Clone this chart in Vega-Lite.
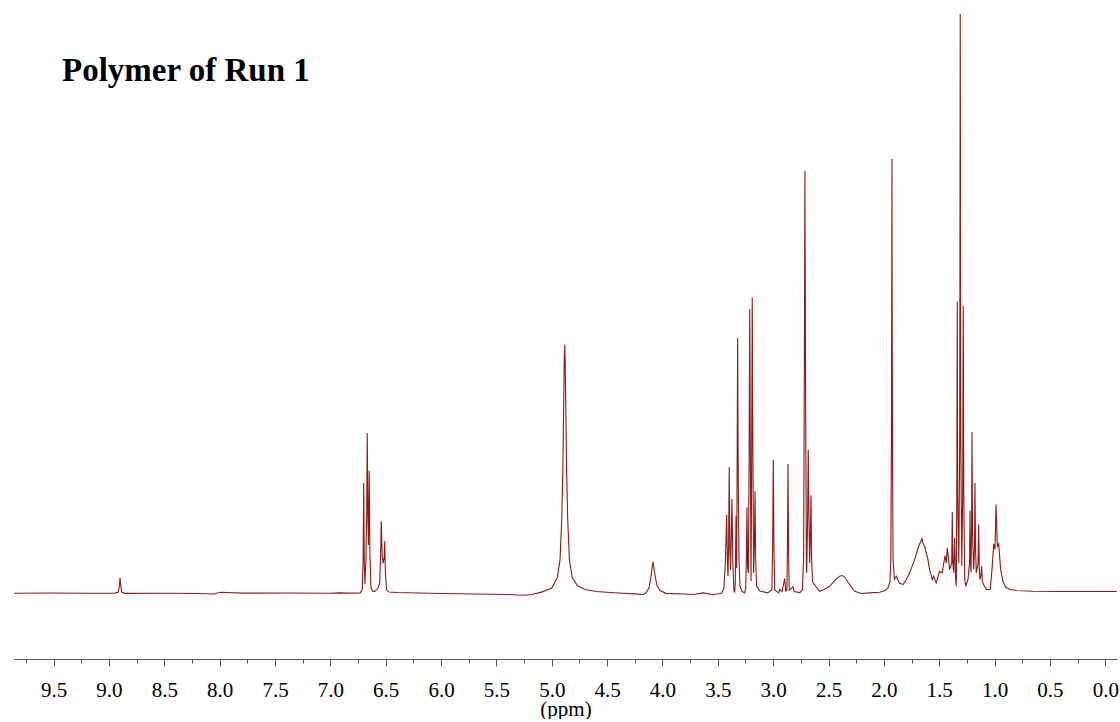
{
  "$schema": "https://vega.github.io/schema/vega-lite/v6.json",
  "width": 1103,
  "height": 659,
  "padding": {"left": 11, "top": 0, "right": 6, "bottom": 0},
  "background": "white",
  "config": {"view": {"stroke": null}},
  "title": {
    "text": "Polymer of Run 1",
    "anchor": "start",
    "frame": "group",
    "orient": "top",
    "font": "Liberation Serif",
    "fontSize": 33,
    "fontWeight": "bold",
    "color": "#000000",
    "baseline": "alphabetic",
    "dx": 48,
    "offset": -114
  },
  "data": {
    "values": [
      {"ppm": 9.858, "intensity": -0.2}, {"ppm": 9.5, "intensity": 0}, {"ppm": 9.2, "intensity": -0.2},
      {"ppm": 8.95, "intensity": -0.1}, {"ppm": 8.915, "intensity": 1}, {"ppm": 8.905, "intensity": 8.5},
      {"ppm": 8.9, "intensity": 15.2}, {"ppm": 8.895, "intensity": 8.5}, {"ppm": 8.885, "intensity": 1},
      {"ppm": 8.86, "intensity": -0.3}, {"ppm": 8.5, "intensity": -0.2}, {"ppm": 8.2, "intensity": -0.5},
      {"ppm": 8.05, "intensity": -1}, {"ppm": 8.02, "intensity": 0}, {"ppm": 7.98, "intensity": 0.8},
      {"ppm": 7.93, "intensity": 0.5}, {"ppm": 7.8, "intensity": -0.1}, {"ppm": 7.4, "intensity": 0},
      {"ppm": 7.0, "intensity": -0.2}, {"ppm": 6.92, "intensity": 0.2}, {"ppm": 6.85, "intensity": -0.1},
      {"ppm": 6.73, "intensity": 0.2}, {"ppm": 6.712, "intensity": 3.5}, {"ppm": 6.704, "intensity": 33},
      {"ppm": 6.699, "intensity": 110.2}, {"ppm": 6.694, "intensity": 33}, {"ppm": 6.688, "intensity": 9},
      {"ppm": 6.679, "intensity": 33}, {"ppm": 6.672, "intensity": 80}, {"ppm": 6.667, "intensity": 160.2},
      {"ppm": 6.661, "intensity": 75}, {"ppm": 6.656, "intensity": 48}, {"ppm": 6.649, "intensity": 122.5},
      {"ppm": 6.643, "intensity": 40}, {"ppm": 6.634, "intensity": 6}, {"ppm": 6.62, "intensity": 2},
      {"ppm": 6.6, "intensity": 1.5}, {"ppm": 6.57, "intensity": 5}, {"ppm": 6.555, "intensity": 10},
      {"ppm": 6.547, "intensity": 35}, {"ppm": 6.54, "intensity": 71.8}, {"ppm": 6.533, "intensity": 40},
      {"ppm": 6.524, "intensity": 30}, {"ppm": 6.514, "intensity": 35}, {"ppm": 6.509, "intensity": 51.8},
      {"ppm": 6.503, "intensity": 20}, {"ppm": 6.492, "intensity": 3}, {"ppm": 6.47, "intensity": 1},
      {"ppm": 6.4, "intensity": 0.5}, {"ppm": 6.2, "intensity": 0}, {"ppm": 6.0, "intensity": -0.5},
      {"ppm": 5.7, "intensity": -1}, {"ppm": 5.4, "intensity": -1.5}, {"ppm": 5.26, "intensity": -2.2},
      {"ppm": 5.18, "intensity": -1.5}, {"ppm": 5.1, "intensity": 0.7}, {"ppm": 5.0, "intensity": 5},
      {"ppm": 4.95, "intensity": 15.5}, {"ppm": 4.925, "intensity": 33.5}, {"ppm": 4.91, "intensity": 73.5},
      {"ppm": 4.9, "intensity": 123.5}, {"ppm": 4.893, "intensity": 183.5}, {"ppm": 4.887, "intensity": 233.5},
      {"ppm": 4.883, "intensity": 248.5}, {"ppm": 4.879, "intensity": 233.5}, {"ppm": 4.873, "intensity": 183.5},
      {"ppm": 4.866, "intensity": 123.5}, {"ppm": 4.856, "intensity": 73.5}, {"ppm": 4.841, "intensity": 33.5},
      {"ppm": 4.815, "intensity": 15.5}, {"ppm": 4.77, "intensity": 7.5}, {"ppm": 4.7, "intensity": 3.5},
      {"ppm": 4.6, "intensity": 1.5}, {"ppm": 4.4, "intensity": 0}, {"ppm": 4.25, "intensity": -0.8},
      {"ppm": 4.176, "intensity": -1.5}, {"ppm": 4.15, "intensity": 0}, {"ppm": 4.12, "intensity": 5.5},
      {"ppm": 4.1, "intensity": 19.5}, {"ppm": 4.092, "intensity": 27}, {"ppm": 4.086, "intensity": 31.2},
      {"ppm": 4.08, "intensity": 27}, {"ppm": 4.07, "intensity": 19.5}, {"ppm": 4.05, "intensity": 7.5},
      {"ppm": 4.02, "intensity": 2.5}, {"ppm": 3.97, "intensity": -0.3}, {"ppm": 3.8, "intensity": -1},
      {"ppm": 3.72, "intensity": -1.5}, {"ppm": 3.634, "intensity": 0.2}, {"ppm": 3.55, "intensity": -1.5},
      {"ppm": 3.5, "intensity": -1}, {"ppm": 3.465, "intensity": 0}, {"ppm": 3.445, "intensity": 5},
      {"ppm": 3.432, "intensity": 30}, {"ppm": 3.42, "intensity": 78.5}, {"ppm": 3.413, "intensity": 30},
      {"ppm": 3.408, "intensity": 17}, {"ppm": 3.403, "intensity": 45}, {"ppm": 3.397, "intensity": 126.2},
      {"ppm": 3.391, "intensity": 45}, {"ppm": 3.385, "intensity": 23}, {"ppm": 3.378, "intensity": 60},
      {"ppm": 3.372, "intensity": 94.2}, {"ppm": 3.365, "intensity": 33}, {"ppm": 3.355, "intensity": 3},
      {"ppm": 3.348, "intensity": 0.5}, {"ppm": 3.342, "intensity": 10}, {"ppm": 3.336, "intensity": 76.8},
      {"ppm": 3.33, "intensity": 25}, {"ppm": 3.325, "intensity": 140}, {"ppm": 3.321, "intensity": 255.2},
      {"ppm": 3.317, "intensity": 150}, {"ppm": 3.315, "intensity": 107.8}, {"ppm": 3.309, "intensity": 35},
      {"ppm": 3.3, "intensity": 7}, {"ppm": 3.28, "intensity": 1.5}, {"ppm": 3.257, "intensity": 0.2},
      {"ppm": 3.248, "intensity": 5}, {"ppm": 3.242, "intensity": 35}, {"ppm": 3.237, "intensity": 85.8},
      {"ppm": 3.231, "intensity": 25}, {"ppm": 3.224, "intensity": 20}, {"ppm": 3.217, "intensity": 140},
      {"ppm": 3.212, "intensity": 284.2}, {"ppm": 3.206, "intensity": 140}, {"ppm": 3.2, "intensity": 12},
      {"ppm": 3.194, "intensity": 140}, {"ppm": 3.189, "intensity": 295.8}, {"ppm": 3.183, "intensity": 140},
      {"ppm": 3.177, "intensity": 20}, {"ppm": 3.169, "intensity": 50}, {"ppm": 3.164, "intensity": 101.8},
      {"ppm": 3.158, "intensity": 35}, {"ppm": 3.15, "intensity": 7}, {"ppm": 3.12, "intensity": 2},
      {"ppm": 3.05, "intensity": 0.2}, {"ppm": 3.012, "intensity": 3}, {"ppm": 3.005, "intensity": 45},
      {"ppm": 2.999, "intensity": 133.5}, {"ppm": 2.993, "intensity": 45}, {"ppm": 2.986, "intensity": 3},
      {"ppm": 2.95, "intensity": 0.2}, {"ppm": 2.941, "intensity": 3.5}, {"ppm": 2.92, "intensity": 1.5},
      {"ppm": 2.896, "intensity": 14.5}, {"ppm": 2.886, "intensity": 2}, {"ppm": 2.876, "intensity": 3},
      {"ppm": 2.871, "intensity": 45}, {"ppm": 2.866, "intensity": 129.2}, {"ppm": 2.861, "intensity": 45},
      {"ppm": 2.855, "intensity": 3}, {"ppm": 2.821, "intensity": 6.2}, {"ppm": 2.81, "intensity": 1.5},
      {"ppm": 2.76, "intensity": 0.5}, {"ppm": 2.736, "intensity": 3}, {"ppm": 2.725, "intensity": 35},
      {"ppm": 2.719, "intensity": 200}, {"ppm": 2.713, "intensity": 422.5}, {"ppm": 2.707, "intensity": 200},
      {"ppm": 2.7, "intensity": 30}, {"ppm": 2.697, "intensity": 20}, {"ppm": 2.689, "intensity": 75},
      {"ppm": 2.683, "intensity": 143.5}, {"ppm": 2.677, "intensity": 75}, {"ppm": 2.67, "intensity": 30},
      {"ppm": 2.664, "intensity": 60}, {"ppm": 2.659, "intensity": 97.5}, {"ppm": 2.653, "intensity": 35},
      {"ppm": 2.645, "intensity": 12}, {"ppm": 2.64, "intensity": 10.2}, {"ppm": 2.58, "intensity": 1.8},
      {"ppm": 2.54, "intensity": 3.5}, {"ppm": 2.49, "intensity": 6.8}, {"ppm": 2.43, "intensity": 14.2},
      {"ppm": 2.4, "intensity": 16.8}, {"ppm": 2.376, "intensity": 17.5}, {"ppm": 2.35, "intensity": 15.5},
      {"ppm": 2.324, "intensity": 10.8}, {"ppm": 2.264, "intensity": 1.8},
      {"ppm": 2.204, "intensity": -0.5}, {"ppm": 2.128, "intensity": 0.2}, {"ppm": 2.038, "intensity": 0.8},
      {"ppm": 1.99, "intensity": 2.5}, {"ppm": 1.963, "intensity": 5.2}, {"ppm": 1.945, "intensity": 11.5},
      {"ppm": 1.937, "intensity": 33.5}, {"ppm": 1.932, "intensity": 143.5}, {"ppm": 1.929, "intensity": 293.5},
      {"ppm": 1.927, "intensity": 434.5}, {"ppm": 1.925, "intensity": 293.5}, {"ppm": 1.922, "intensity": 143.5},
      {"ppm": 1.917, "intensity": 33.5}, {"ppm": 1.905, "intensity": 14}, {"ppm": 1.888, "intensity": 16.8},
      {"ppm": 1.86, "intensity": 10}, {"ppm": 1.827, "intensity": 8.5}, {"ppm": 1.797, "intensity": 13.5},
      {"ppm": 1.767, "intensity": 20.2}, {"ppm": 1.722, "intensity": 33.5}, {"ppm": 1.686, "intensity": 46.8},
      {"ppm": 1.665, "intensity": 52}, {"ppm": 1.656, "intensity": 54.5}, {"ppm": 1.645, "intensity": 49},
      {"ppm": 1.632, "intensity": 46.8}, {"ppm": 1.602, "intensity": 33.5}, {"ppm": 1.587, "intensity": 23.5},
      {"ppm": 1.562, "intensity": 13.5}, {"ppm": 1.55, "intensity": 16.8}, {"ppm": 1.527, "intensity": 10.2},
      {"ppm": 1.497, "intensity": 21.8}, {"ppm": 1.473, "intensity": 20.2}, {"ppm": 1.448, "intensity": 37.5},
      {"ppm": 1.437, "intensity": 30}, {"ppm": 1.427, "intensity": 45.2}, {"ppm": 1.406, "intensity": 23.5},
      {"ppm": 1.387, "intensity": 30}, {"ppm": 1.382, "intensity": 81.2}, {"ppm": 1.377, "intensity": 30},
      {"ppm": 1.37, "intensity": 20.5}, {"ppm": 1.361, "intensity": 55.2}, {"ppm": 1.353, "intensity": 15},
      {"ppm": 1.346, "intensity": 6.8}, {"ppm": 1.341, "intensity": 100}, {"ppm": 1.337, "intensity": 291.8},
      {"ppm": 1.333, "intensity": 100}, {"ppm": 1.323, "intensity": 30}, {"ppm": 1.315, "intensity": 150},
      {"ppm": 1.31, "intensity": 579.5}, {"ppm": 1.305, "intensity": 150}, {"ppm": 1.296, "intensity": 27},
      {"ppm": 1.288, "intensity": 100}, {"ppm": 1.283, "intensity": 287.5}, {"ppm": 1.278, "intensity": 100},
      {"ppm": 1.27, "intensity": 15}, {"ppm": 1.261, "intensity": 6.8}, {"ppm": 1.24, "intensity": 13.5},
      {"ppm": 1.226, "intensity": 30}, {"ppm": 1.222, "intensity": 82.5}, {"ppm": 1.217, "intensity": 30},
      {"ppm": 1.213, "intensity": 20.5}, {"ppm": 1.208, "intensity": 60}, {"ppm": 1.204, "intensity": 161.2},
      {"ppm": 1.199, "intensity": 60}, {"ppm": 1.189, "intensity": 23.5}, {"ppm": 1.181, "intensity": 45},
      {"ppm": 1.177, "intensity": 110.2}, {"ppm": 1.172, "intensity": 45}, {"ppm": 1.165, "intensity": 20.2},
      {"ppm": 1.149, "intensity": 30}, {"ppm": 1.144, "intensity": 68.5}, {"ppm": 1.138, "intensity": 25},
      {"ppm": 1.132, "intensity": 13.5}, {"ppm": 1.122, "intensity": 18}, {"ppm": 1.117, "intensity": 26.8},
      {"ppm": 1.11, "intensity": 12}, {"ppm": 1.099, "intensity": 8.5}, {"ppm": 1.075, "intensity": 3.5},
      {"ppm": 1.039, "intensity": 3.5}, {"ppm": 1.021, "intensity": 26.8}, {"ppm": 1.008, "intensity": 49.2},
      {"ppm": 0.996, "intensity": 43.5}, {"ppm": 0.987, "intensity": 88.5}, {"ppm": 0.975, "intensity": 46.8},
      {"ppm": 0.963, "intensity": 49.2}, {"ppm": 0.945, "intensity": 23.5}, {"ppm": 0.924, "intensity": 11.8},
      {"ppm": 0.9, "intensity": 6}, {"ppm": 0.864, "intensity": 3.5}, {"ppm": 0.8, "intensity": 2.5},
      {"ppm": 0.653, "intensity": 1.8}, {"ppm": 0.4, "intensity": 1.5}, {"ppm": 0.0, "intensity": 1.5},
      {"ppm": -0.106, "intensity": 1.5}
    ]
  },
  "mark": {"type": "line", "color": "#8b1a1a", "strokeWidth": 1.1, "interpolate": "linear"},
  "encoding": {
    "x": {
      "field": "ppm",
      "type": "quantitative",
      "scale": {"domain": [9.858, -0.106], "nice": false, "zero": false},
      "axis": {
        "orient": "bottom",
        "title": "(ppm)",
        "titleFont": "Liberation Serif",
        "titleFontSize": 21,
        "titleFontWeight": "normal",
        "titleColor": "#000000",
        "titlePadding": -2,
        "values": [9.75, 9.5, 9.25, 9.0, 8.75, 8.5, 8.25, 8.0, 7.75, 7.5, 7.25, 7.0, 6.75, 6.5, 6.25, 6.0, 5.75, 5.5, 5.25, 5.0, 4.75, 4.5, 4.25, 4.0, 3.75, 3.5, 3.25, 3.0, 2.75, 2.5, 2.25, 2.0, 1.75, 1.5, 1.25, 1.0, 0.75, 0.5, 0.25, 0.0],
        "labelExpr": "(datum.value * 4) % 2 === 0 ? format(datum.value, '.1f') : ''",
        "labelFont": "Liberation Serif",
        "labelFontSize": 21,
        "labelColor": "#000000",
        "labelPadding": 13,
        "labelOverlap": false,
        "labelFlush": false,
        "tickSize": {"condition": {"test": "(datum.value * 4) % 2 === 0", "value": 7}, "value": 4},
        "tickColor": "#555555",
        "domainColor": "#555555",
        "grid": false
      }
    },
    "y": {
      "field": "intensity",
      "type": "quantitative",
      "scale": {"domain": [-66, 593.5], "nice": false, "zero": false},
      "axis": null
    }
  }
}
